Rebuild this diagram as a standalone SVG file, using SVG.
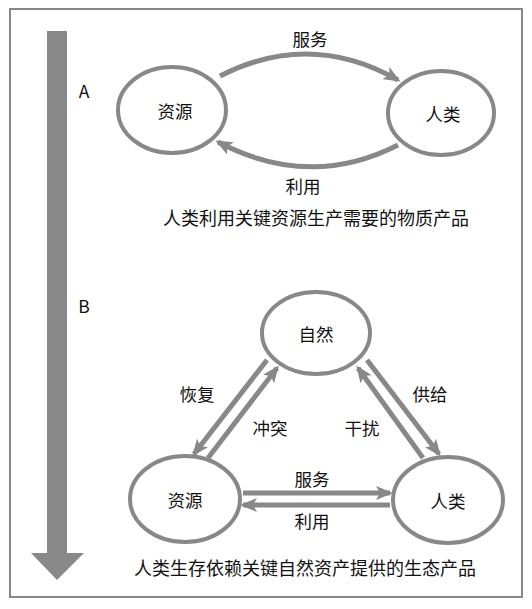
<svg xmlns="http://www.w3.org/2000/svg" width="532" height="609" viewBox="0 0 532 609">
<defs>
<style>
.node{fill:#fff;stroke:#888;stroke-width:4}
.con{fill:none;stroke:#888;stroke-width:5}
text{font-family:"Noto Sans CJK SC","Noto Sans",sans-serif;font-size:17.5px;fill:#111;text-anchor:middle;dominant-baseline:central}
.cap{font-size:18px}
</style>
<marker id="ah" markerUnits="userSpaceOnUse" markerWidth="18" markerHeight="14" refX="14" refY="7" orient="auto">
<path d="M0,0 L17,7 L0,14 L4,7 z" fill="#888"/>
</marker>
</defs>
<rect x="10" y="9" width="512" height="588" fill="#fff" stroke="#888" stroke-width="2"/>
<g id="timeline">
<rect x="47" y="31" width="20" height="523" fill="#888"/>
<polygon points="31,553 84,553 57,580" fill="#888"/>
</g>
<text x="84" y="90">A</text>
<text x="84" y="305">B</text>
<g id="connectors">
<path class="con" d="M220,76 Q310,30 398,80" marker-end="url(#ah)"/>
<path class="con" d="M398,145 Q310,190 218,142" marker-end="url(#ah)"/>
<line class="con" x1="267" y1="360" x2="194" y2="454" marker-end="url(#ah)"/>
<line class="con" x1="208" y1="458" x2="277" y2="368" marker-end="url(#ah)"/>
<line class="con" x1="367" y1="360" x2="439" y2="454" marker-end="url(#ah)"/>
<line class="con" x1="423" y1="458" x2="358" y2="368" marker-end="url(#ah)"/>
<line class="con" x1="243" y1="493" x2="390" y2="493" marker-end="url(#ah)"/>
<line class="con" x1="390" y1="505" x2="243" y2="505" marker-end="url(#ah)"/>
</g>
<g id="a-ziyuan"><ellipse class="node" cx="172" cy="110" rx="54" ry="43"/><text x="175" y="110">资源</text></g>
<g id="a-renlei"><ellipse class="node" cx="441" cy="113" rx="53" ry="42"/><text x="443" y="113">人类</text></g>
<g id="b-ziran"><ellipse class="node" cx="316" cy="333" rx="54" ry="41"/><text x="316" y="333">自然</text></g>
<g id="b-ziyuan"><ellipse class="node" cx="185" cy="499" rx="55" ry="43"/><text x="185" y="499">资源</text></g>
<g id="b-renlei"><ellipse class="node" cx="448" cy="500" rx="55" ry="43"/><text x="448" y="500">人类</text></g>
<g id="labels">
<text x="310" y="38">服务</text>
<text x="303" y="185">利用</text>
<text class="cap" x="316" y="217">人类利用关键资源生产需要的物质产品</text>
<text x="197" y="393">恢复</text>
<text x="270" y="427">冲突</text>
<text x="362" y="427">干扰</text>
<text x="430" y="393">供给</text>
<text x="312" y="478">服务</text>
<text x="312" y="520">利用</text>
<text class="cap" x="305" y="567">人类生存依赖关键自然资产提供的生态产品</text>
</g>
</svg>
